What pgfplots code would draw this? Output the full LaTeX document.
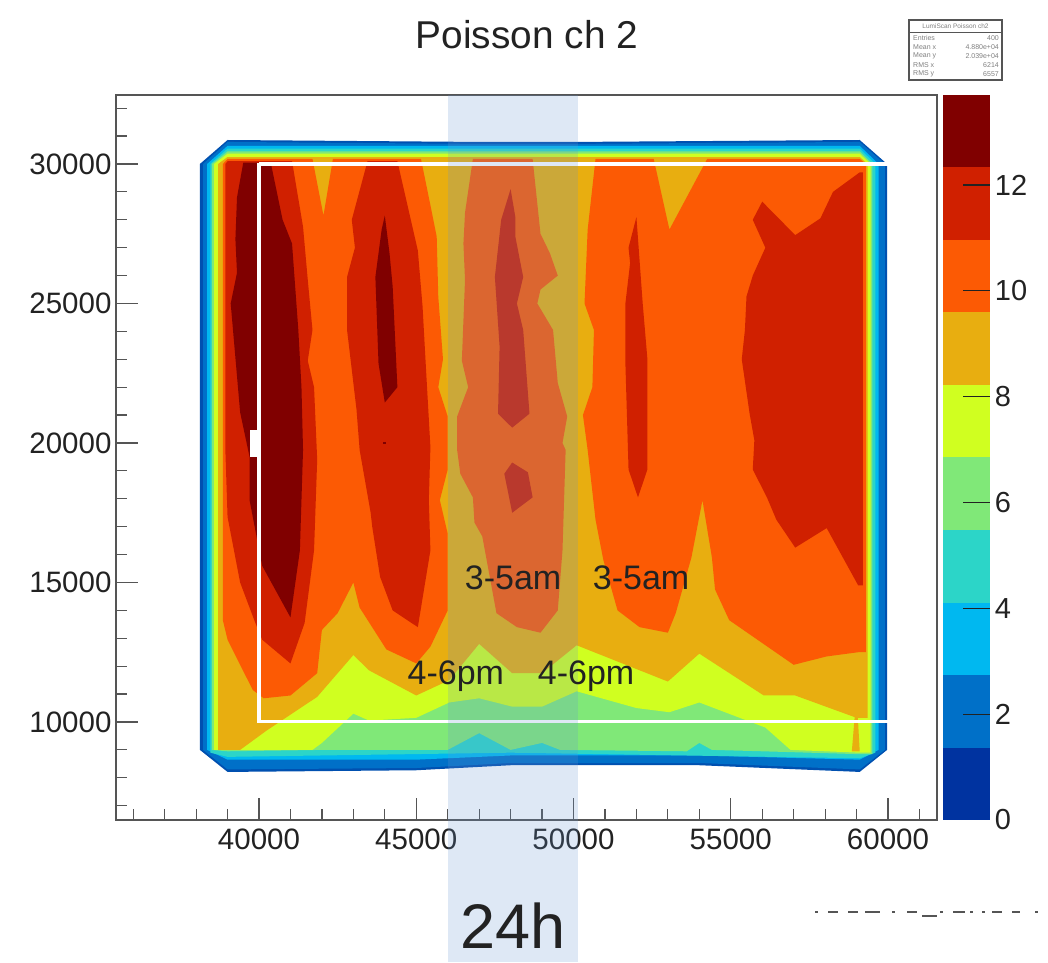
\documentclass[border=0pt]{standalone}
\usepackage{pgfplots}
\pgfplotsset{compat=1.18}
\usepackage{fontspec}
\setmainfont{Liberation Sans}
\definecolor{c0}{HTML}{0050B0}
\definecolor{c1}{HTML}{0070C8}
\definecolor{c2}{HTML}{00B8F0}
\definecolor{c3}{HTML}{2CD5C8}
\definecolor{c4}{HTML}{80E878}
\definecolor{c5}{HTML}{D0FF20}
\definecolor{c6}{HTML}{E8AE10}
\definecolor{c7}{HTML}{FC5A04}
\definecolor{c8}{HTML}{D02000}
\definecolor{c9}{HTML}{800000}
\definecolor{cb0}{HTML}{0033A0}
\definecolor{bandc}{RGB}{102,149,209}
\definecolor{axc}{HTML}{555555}
\definecolor{txt}{HTML}{222222}
\newcommand{\zone}[2]{\addplot[fill=#1,draw=none] coordinates {#2};}
\begin{document}
\begin{tikzpicture}[x=1pt,y=1pt]
\path (0,0) rectangle (1048,962);
\begin{axis}[
  at={(116pt,142pt)},anchor=south west,
  width=821pt,height=725pt,scale only axis,
  xmin=35453,xmax=61558,ymin=6487,ymax=32473,
  clip=false,
  axis line style={draw=axc,line width=1.5pt},
  xtick={40000,45000,50000,55000,60000},
  ytick={10000,15000,20000,25000,30000},
  minor xtick={36000,37000,38000,39000,41000,42000,43000,44000,46000,47000,48000,49000,51000,52000,53000,54000,56000,57000,58000,59000,61000},
  minor ytick={7000,8000,9000,11000,12000,13000,14000,16000,17000,18000,19000,21000,22000,23000,24000,26000,27000,28000,29000,31000,32000},
  xtick pos=bottom,ytick pos=left,tick align=inside,
  major tick length=22pt,minor tick length=11pt,
  tick style={draw=axc,line width=1.2pt},
  scaled ticks=false,
  /pgf/number format/assume math mode=true,
  /pgf/number format/set thousands separator={},
  /pgf/number format/fixed,
  tick label style={font=\fontsize{29.5}{29.5}\selectfont,text=txt},
  xticklabel style={yshift=-5pt},
  yticklabel style={xshift=-1pt},
]
% outer bands
\zone{c0}{(38120,30000)(39000,30860)(47000,30790)(50000,30790)(59100,30860)(59970,30000)(59970,9000)(59100,8210)(54000,8450)(48000,8450)(45000,8270)(39000,8210)(38120,9000)}
\zone{c1}{(38220,30000)(39000,30790)(47000,30720)(50000,30720)(59100,30790)(59900,30000)(59900,9000)(59100,8300)(54000,8530)(48000,8530)(45000,8350)(39000,8300)(38220,9000)}
\zone{c2}{(38350,30000)(39000,30650)(59100,30650)(59700,30000)(59700,9000)(59100,8650)(54000,8800)(48000,8800)(45000,8650)(39000,8650)(38350,9000)}
\zone{c3}{(38450,30000)(39000,30550)(59100,30550)(59600,30000)(59600,8900)(59100,8700)(48000,8900)(39000,8750)(38450,8900)}
% green
\zone{c4}{(38500,30000)(39000,30450)(59100,30450)(59500,30000)(59500,8850)(59000,8850)(56000,8950)(54400,9000)(54000,9250)(53600,8950)(49570,9000)(49000,9250)(48000,9000)(47000,9600)(46000,9000)(42000,9000)(39000,8950)(38500,9000)}
% yellow
\zone{c5}{(38570,30000)(39000,30370)(59100,30370)(59450,30000)(59450,8900)(59100,8900)(56900,9000)(56100,9800)(54000,10700)(53050,10350)(52000,10500)(50100,11100)(49000,10550)(48050,10550)(47000,10850)(46050,10700)(45000,10150)(43500,10050)(43000,10300)(42000,9250)(41700,9000)(39000,9000)(38570,9000)}
% amber
\zone{c6}{(38700,30000)(39000,30250)(59100,30250)(59350,30000)(59350,10150)(59000,10150)(57050,10950)(56050,10950)(54000,12450)(53000,11450)(50100,12750)(49000,11750)(48050,11750)(47000,12800)(46050,11500)(45000,10950)(43500,11850)(43000,12400)(41850,10900)(40250,9700)(39400,9000)(38700,9000)}
% orange, left
\zone{c7}{(38850,30000)(39000,30180)(41700,30180)(42050,28150)(42350,30180)(45150,30180)(45400,28800)(45650,27400)(45700,25250)(45850,23000)(45700,22000)(46000,20950)(46000,19050)(45750,17950)(46000,16750)(46000,14000)(45450,12700)(45000,12100)(44050,12600)(43200,14100)(43000,15000)(42500,13900)(42000,13300)(41850,11750)(41000,10950)(40150,10850)(39800,11150)(39000,12950)(38850,13650)}
% orange, centre
\zone{c7}{(46800,30180)(48700,30180)(48950,27500)(49250,26800)(49500,26000)(48950,25500)(48850,25000)(49350,24050)(49500,22150)(49800,20950)(49650,20000)(49750,19750)(49650,16150)(49500,14000)(48950,13200)(48200,13400)(47550,13900)(47100,16650)(46850,17150)(46800,18050)(46400,18900)(46300,19750)(46300,20950)(46650,22000)(46450,22950)(46550,25850)(46500,27150)(46550,28250)}
% orange, right
\zone{c7}{(50700,30180)(52550,30180)(53050,27650)(54250,30180)(59100,30180)(59300,30000)(59300,12500)(59050,12500)(58050,12350)(57000,12050)(54950,13650)(54500,14750)(54400,15900)(54100,17950)(53750,15900)(53250,13900)(53000,13200)(52100,13400)(51400,14000)(50950,15800)(50700,17250)(50450,19750)(50300,21000)(50600,22000)(50650,24050)(50350,25000)(50450,27650)}
\zone{c6}{(58850,8950)(59100,8950)(59000,11000)}
% red
\zone{c8}{(38930,30000)(39000,30100)(41050,30100)(41400,27750)(41550,25850)(41700,24050)(41550,22950)(41750,22000)(41850,19400)(41750,16150)(41450,13550)(41000,12100)(40100,12950)(39850,13650)(39400,15000)(39000,17350)(38930,19750)}
\zone{c8}{(43450,30100)(44400,30100)(45050,26900)(45200,24900)(45300,22850)(45450,19850)(45400,17950)(45450,16150)(45050,13400)(44250,14000)(43850,15200)(43600,17000)(43550,17500)(43200,19750)(43100,21200)(42800,24050)(42800,25950)(43050,27000)(42950,28000)}
\zone{c8}{(48000,29100)(48150,28100)(48150,27400)(48400,25950)(48200,25000)(48400,24050)(48600,21050)(48050,20550)(47600,21050)(47650,23450)(47500,25950)(47700,28000)}
\zone{c8}{(48050,19300)(48550,18950)(48700,18050)(48050,17500)(47800,18900)}
\zone{c8}{(52000,28100)(52200,25000)(52350,23000)(52350,19050)(52050,18050)(51750,19050)(51650,22850)(51650,25000)(51800,26450)(51750,27000)}
\zone{c8}{(56000,28650)(57050,27450)(57850,28050)(58250,29000)(59100,29700)(59200,29700)(59200,14900)(59050,14900)(58050,16950)(57050,16250)(56450,17250)(56150,18050)(55700,19050)(55750,20100)(55600,21050)(55350,23000)(55450,24050)(55500,25250)(55700,26000)(56100,27000)(55700,28000)}
% dark
\zone{c9}{(39500,30050)(39300,28800)(39250,27300)(39300,26100)(39100,25000)(39400,21100)(39700,19500)(39700,17950)(40100,15600)(41000,13750)(41300,16150)(41400,19750)(41350,22000)(41250,24050)(41050,27150)(40750,28000)(40400,29900)(40400,30050)}
\zone{c9}{(44000,28150)(44150,26800)(44250,25600)(44400,22000)(44000,21450)(43800,22850)(43700,25950)(43900,27650)}
\zone{c9}{(43950,20050)(44050,20050)(44050,19950)(43950,19950)}
% white frame
\addplot[draw=white,line width=3.5pt] coordinates {(40000,30000)(60000,30000)};
\addplot[draw=white,line width=3pt] coordinates {(40000,10000)(60000,10000)};
\addplot[draw=white,line width=3.5pt] coordinates {(40000,30050)(40000,9950)};
\addplot[fill=white,draw=none] coordinates {(39700,19500)(39970,19500)(39970,20470)(39700,20470)};
% band
\addplot[fill=bandc,fill opacity=.215,draw=none] coordinates {(46010,32473)(50143,32473)(50143,1398)(46010,1398)};
% annotations
\node[font=\fontsize{34}{34}\selectfont,text=txt] at (axis cs:48080,15160) {3-5am};
\node[font=\fontsize{34}{34}\selectfont,text=txt] at (axis cs:52150,15160) {3-5am};
\node[font=\fontsize{34}{34}\selectfont,text=txt] at (axis cs:46260,11650) {4-6pm};
\node[font=\fontsize{34}{34}\selectfont,text=txt] at (axis cs:50400,11650) {4-6pm};
\node[font=\fontsize{63}{63}\selectfont,text=txt,inner sep=0pt] at (axis cs:48080,2700) {24h};
\end{axis}
% colour scale
\begin{axis}[
  at={(943pt,142pt)},anchor=south west,
  width=47pt,height=725pt,scale only axis,
  xmin=0,xmax=1,ymin=0,ymax=13.7,
  axis lines=none,clip=false,
  xtick=\empty,
]
\addplot[fill=cb0,draw=none] coordinates {(0,0)(1,0)(1,1.37)(0,1.37)};
\addplot[fill=c1,draw=none] coordinates {(0,1.37)(1,1.37)(1,2.74)(0,2.74)};
\addplot[fill=c2,draw=none] coordinates {(0,2.74)(1,2.74)(1,4.11)(0,4.11)};
\addplot[fill=c3,draw=none] coordinates {(0,4.11)(1,4.11)(1,5.48)(0,5.48)};
\addplot[fill=c4,draw=none] coordinates {(0,5.48)(1,5.48)(1,6.85)(0,6.85)};
\addplot[fill=c5,draw=none] coordinates {(0,6.85)(1,6.85)(1,8.22)(0,8.22)};
\addplot[fill=c6,draw=none] coordinates {(0,8.22)(1,8.22)(1,9.59)(0,9.59)};
\addplot[fill=c7,draw=none] coordinates {(0,9.59)(1,9.59)(1,10.96)(0,10.96)};
\addplot[fill=c8,draw=none] coordinates {(0,10.96)(1,10.96)(1,12.33)(0,12.33)};
\addplot[fill=c9,draw=none] coordinates {(0,12.33)(1,12.33)(1,13.7)(0,13.7)};
\addplot[draw=txt,line width=1.2pt] coordinates {(.43,2)(1,2)};
\addplot[draw=txt,line width=1.2pt] coordinates {(.43,4)(1,4)};
\addplot[draw=txt,line width=1.2pt] coordinates {(.43,6)(1,6)};
\addplot[draw=txt,line width=1.2pt] coordinates {(.43,8)(1,8)};
\addplot[draw=txt,line width=1.2pt] coordinates {(.43,10)(1,10)};
\addplot[draw=txt,line width=1.2pt] coordinates {(.43,12)(1,12)};
\foreach \v in {0,2,4,6,8,10,12}{
  \edef\tmp{\noexpand\node[anchor=west,font=\noexpand\fontsize{29}{29}\noexpand\selectfont,text=txt,inner sep=0pt] at (axis cs:1.1,\v) {\v};}
  \tmp
}
\end{axis}
% title
\node[font=\fontsize{38.8}{38.8}\selectfont,text=txt] at (527,927) {Poisson ch 2};
% statistics box
\draw[draw=axc,fill=white,line width=1.5pt] (909,882) rectangle (1002,942);
\draw[draw=axc,line width=.6pt] (909,930) -- (1002,930);
\node[font=\fontsize{6.5}{6.5}\selectfont,text=gray] at (955.5,936) {LumiScan Poisson ch2};
\foreach \n/\val/\yy in {Entries/400/924,Mean x/4.880e+04/915,Mean y/2.039e+04/906,RMS x/6214/897,RMS y/6557/888}{
  \node[anchor=west,font=\fontsize{7}{7}\selectfont,text=gray,inner sep=0pt] at (913,\yy) {\n};
  \node[anchor=east,font=\fontsize{7}{7}\selectfont,text=gray,inner sep=0pt] at (999,\yy) {\val};
}
% stray marks below the scale
\foreach \a/\b/\c in {815/818/50,828/838/50,848/858/50,865/880/50,892/895/50,907/917/50,922/937/46,940/943/50,953/965/50,970/973/50,982/985/50,992/1002/50,1012/1020/50,1035/1038/50}{
  \draw[draw=axc,line width=1.5pt] (\a,\c) -- (\b,\c);
}
\end{tikzpicture}
\end{document}
